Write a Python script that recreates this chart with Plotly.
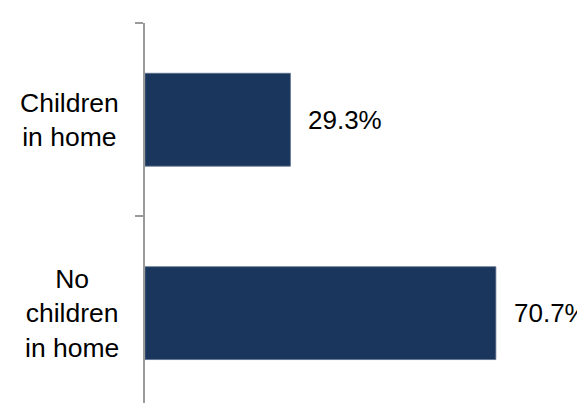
import plotly.graph_objects as go

categories = ["Children<br>in home", "No<br>children<br>in home"]
values = [29.3, 70.7]
value_labels = ["29.3%", "70.7%"]

BAR_COLOR = "#1A365D"
FONT = "Liberation Sans, Arial, sans-serif"

fig = go.Figure()
fig.add_trace(go.Bar(
    x=values,
    y=categories,
    orientation="h",
    marker=dict(color=BAR_COLOR, line=dict(color="#5a6f8c", width=0.8)),
    hoverinfo="skip",
))

annotations = []
for cat, v, lab in zip(categories, values, value_labels):
    annotations.append(dict(
        x=v, y=cat, xref="x", yref="y", text=lab, showarrow=False,
        xanchor="left", yanchor="middle", xshift=16,
        font=dict(family=FONT, size=26, color="#000000"),
    ))
    annotations.append(dict(
        x=0, y=cat, xref="paper", yref="y", text=cat, showarrow=False,
        xanchor="right", yanchor="middle", xshift=-24, align="center",
        font=dict(family=FONT, size=26.5, color="#000000"),
    ))

fig.update_layout(
    width=585, height=403,
    margin=dict(l=137, r=51, t=15, b=0),
    paper_bgcolor="white", plot_bgcolor="white",
    showlegend=False,
    bargap=0.52,
    annotations=annotations,
    xaxis=dict(range=[0, 80], visible=False, fixedrange=True),
    yaxis=dict(
        type="category",
        range=[1.506, -0.5],
        showticklabels=False,
        showline=True, linecolor="#9a9a9a", linewidth=1.5,
        ticks="outside", ticklen=8, tickcolor="#9a9a9a", tickwidth=1.5,
        tickson="boundaries",
        showgrid=False, zeroline=False,
    ),
)

fig.write_html("out.html")
